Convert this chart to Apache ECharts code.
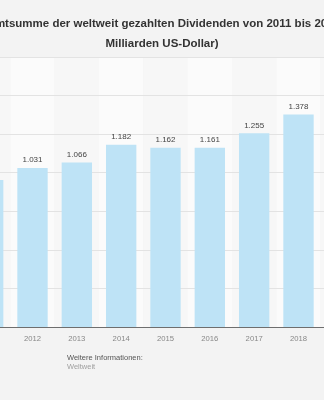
<!DOCTYPE html>
<html>
<head>
<meta charset="utf-8">
<script src="https://cdn.jsdelivr.net/npm/echarts@6/dist/echarts.min.js"></script>
<style>
  html, body { margin: 0; padding: 0; background: #f3f3f3; overflow: hidden; }
  #wrap { position: relative; width: 324px; height: 400px; overflow: hidden; }
  #chart { position: absolute; left: -43px; top: 0; width: 410px; height: 400px; }
</style>
</head>
<body>
<div id="wrap"><div id="chart"></div></div>
<script>
// Weltweit gezahlte Dividenden (Mrd. US-Dollar)
const years = ['2011', '2012', '2013', '2014', '2015', '2016', '2017', '2018', '2019'];
const dividends = [953, 1031, 1066, 1182, 1162, 1161, 1255, 1378, null];
const yTicks = [0, 250, 500, 750, 1000, 1250, 1500, 1750];

const titleText = 'Gesamtsumme der weltweit gezahlten Dividenden von 2011 bis 2019 (in\nMilliarden US-Dollar)';

const fmt = v => {
  const s = String(Math.round(v));
  return s.replace(/\B(?=(\d{3})+(?!\d))/g, '.');
};

const chart = echarts.init(document.getElementById('chart'), null, { renderer: 'canvas' });
chart.setOption({
  backgroundColor: '#f3f3f3',
  animation: false,
  title: {
    text: titleText,
    left: 'center',
    top: 9,
    textStyle: {
      fontFamily: 'Liberation Sans, Arial, sans-serif',
      fontSize: 11.5,
      fontWeight: 'bold',
      color: '#333',
      lineHeight: 20
    }
  },
  grid: {
    left: 9,
    right: 2,
    top: 57,
    bottom: 73,
    containLabel: false
  },
  xAxis: {
    type: 'category',
    data: years,
    z: 0,
    axisLine: { show: true, lineStyle: { color: '#6e6e6e', width: 1 } },
    axisTick: { show: false },
    axisLabel: {
      color: '#888',
      fontSize: 7.7,
      fontFamily: 'Liberation Sans, Arial, sans-serif',
      margin: 8
    },
    splitArea: {
      show: true,
      areaStyle: { color: ['#f7f7f7', '#fbfbfb'] }
    }
  },
  yAxis: {
    type: 'value',
    z: 1,
    min: yTicks[0],
    max: yTicks[yTicks.length - 1],
    interval: yTicks[1] - yTicks[0],
    axisLabel: { show: false },
    axisLine: { show: false },
    axisTick: { show: false },
    splitLine: {
      show: true,
      showMinLine: false,
      lineStyle: { color: '#e3e3e3', width: 1 }
    }
  },
  series: [{
    type: 'bar',
    z: 2,
    data: dividends,
    barWidth: '68.5%',
    itemStyle: { color: '#bee3f6' },
    label: {
      show: true,
      position: 'top',
      distance: 4,
      color: '#444',
      fontSize: 8,
      fontFamily: 'Liberation Sans, Arial, sans-serif',
      formatter: p => fmt(p.value)
    }
  }],
  graphic: [
    {
      type: 'text',
      left: 110,
      top: 354,
      style: {
        text: 'Weitere Informationen:',
        fill: '#555',
        font: '7.5px "Liberation Sans", Arial, sans-serif'
      }
    },
    {
      type: 'text',
      left: 110,
      top: 363,
      style: {
        text: 'Weltweit',
        fill: '#a0a0a0',
        font: '7.5px "Liberation Sans", Arial, sans-serif'
      }
    }
  ]
});
</script>
</body>
</html>
